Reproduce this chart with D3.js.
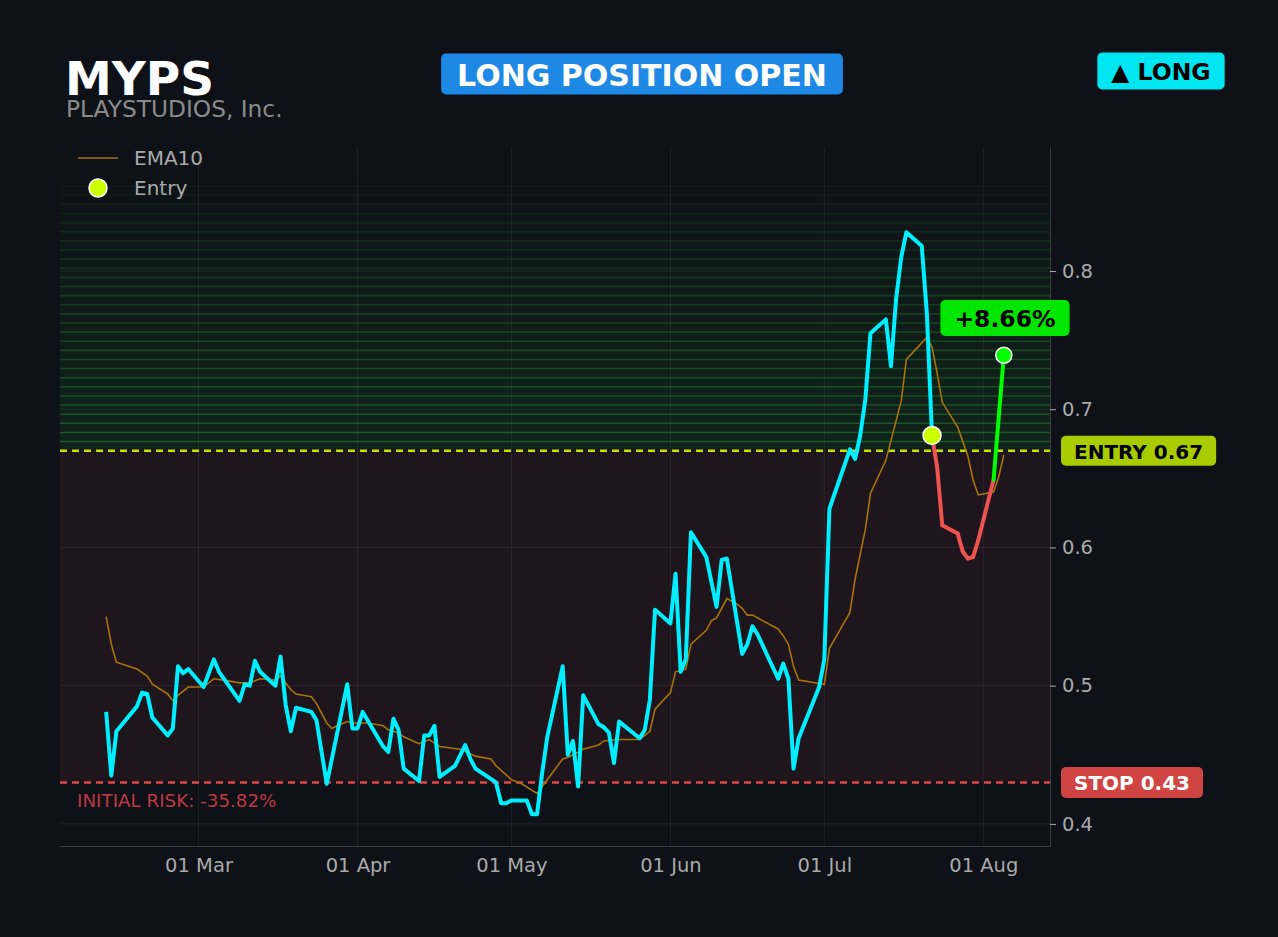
<!DOCTYPE html>
<html>
<head>
<meta charset="utf-8">
<script src="https://cdn.jsdelivr.net/npm/d3@7"></script>
<style>
  body { margin: 0; background: #0e1117; }
  text { font-family: "DejaVu Sans", sans-serif; }
</style>
</head>
<body>
<script>
var w = 1278;
var h = 937;

// ---- data ----
var priceDates = ["2025-02-11","2025-02-12","2025-02-13","2025-02-17","2025-02-18","2025-02-19","2025-02-20","2025-02-23","2025-02-24","2025-02-25","2025-02-26","2025-02-27",
  "2025-03-02","2025-03-04","2025-03-05","2025-03-09","2025-03-10","2025-03-11","2025-03-12","2025-03-13","2025-03-16","2025-03-17","2025-03-18","2025-03-19","2025-03-20","2025-03-23","2025-03-24","2025-03-26","2025-03-30","2025-03-31",
  "2025-04-01","2025-04-02","2025-04-06","2025-04-07","2025-04-08","2025-04-09","2025-04-10","2025-04-13","2025-04-14","2025-04-15","2025-04-16","2025-04-17","2025-04-20","2025-04-22","2025-04-23","2025-04-24","2025-04-28","2025-04-29","2025-04-30",
  "2025-05-01","2025-05-04","2025-05-05","2025-05-06","2025-05-07","2025-05-08","2025-05-11","2025-05-12","2025-05-13","2025-05-14","2025-05-15","2025-05-18","2025-05-19","2025-05-20","2025-05-21","2025-05-22","2025-05-26","2025-05-27","2025-05-28","2025-05-29",
  "2025-06-01","2025-06-02","2025-06-03","2025-06-04","2025-06-05","2025-06-08","2025-06-10","2025-06-11","2025-06-12","2025-06-15","2025-06-16","2025-06-17","2025-06-18","2025-06-22","2025-06-23","2025-06-24","2025-06-25","2025-06-26","2025-06-30",
  "2025-07-01","2025-07-02","2025-07-06","2025-07-07","2025-07-08","2025-07-09","2025-07-10","2025-07-13","2025-07-14","2025-07-15","2025-07-16","2025-07-17","2025-07-20","2025-07-21","2025-07-22",
  "2025-07-23","2025-07-24","2025-07-27","2025-07-28","2025-07-29","2025-07-30","2025-07-31","2025-08-03","2025-08-05"];
var priceValues = [0.481,0.435,0.467,0.485,0.495,0.494,0.477,0.464,0.469,0.514,0.509,0.512,
  0.499,0.519,0.510,0.489,0.501,0.500,0.518,0.510,0.500,0.521,0.486,0.467,0.484,0.481,0.475,0.429,0.501,0.469,
  0.469,0.481,0.456,0.452,0.476,0.468,0.440,0.431,0.464,0.464,0.471,0.434,0.442,0.457,0.447,0.440,0.430,0.415,0.415,
  0.417,0.417,0.407,0.407,0.437,0.463,0.514,0.450,0.460,0.427,0.493,0.472,0.470,0.466,0.444,0.474,0.462,0.468,0.490,0.555,
  0.545,0.581,0.510,0.519,0.611,0.593,0.557,0.591,0.592,0.523,0.530,0.543,0.537,0.505,0.516,0.505,0.440,0.462,0.499,
  0.519,0.628,0.671,0.664,0.681,0.707,0.755,0.765,0.731,0.780,0.810,0.828,0.818,0.769,0.681,
  0.658,0.616,0.610,0.597,0.592,0.593,0.605,0.649,0.739];

var emaDates = ["2025-02-11","2025-02-12","2025-02-13","2025-02-17","2025-02-19","2025-02-20","2025-02-23","2025-02-24","2025-02-25","2025-02-27",
  "2025-03-02","2025-03-04","2025-03-06","2025-03-09","2025-03-11","2025-03-13","2025-03-16","2025-03-17","2025-03-19","2025-03-20","2025-03-23","2025-03-24","2025-03-26","2025-03-27","2025-03-28","2025-03-30","2025-03-31",
  "2025-04-03","2025-04-06","2025-04-07","2025-04-09","2025-04-10","2025-04-13","2025-04-15","2025-04-17","2025-04-21","2025-04-24","2025-04-27","2025-04-28",
  "2025-05-01","2025-05-03","2025-05-06","2025-05-07","2025-05-09","2025-05-11","2025-05-12","2025-05-13","2025-05-15","2025-05-18","2025-05-19","2025-05-22","2025-05-26","2025-05-27","2025-05-28","2025-05-29",
  "2025-06-01","2025-06-02","2025-06-04","2025-06-05","2025-06-08","2025-06-09","2025-06-10","2025-06-12","2025-06-14","2025-06-15","2025-06-16","2025-06-17","2025-06-22","2025-06-23","2025-06-24","2025-06-25","2025-06-26",
  "2025-07-01","2025-07-02","2025-07-04","2025-07-06","2025-07-07","2025-07-09","2025-07-10","2025-07-13","2025-07-16","2025-07-17","2025-07-21","2025-07-22","2025-07-23","2025-07-24","2025-07-27","2025-07-29","2025-07-30","2025-07-31",
  "2025-08-03","2025-08-04","2025-08-05"];
var emaValues = [0.550,0.530,0.517,0.512,0.507,0.501,0.494,0.489,0.493,0.499,
  0.499,0.505,0.504,0.502,0.502,0.505,0.504,0.507,0.497,0.494,0.492,0.487,0.473,0.469,0.471,0.474,0.473,
  0.473,0.471,0.468,0.466,0.463,0.458,0.461,0.456,0.454,0.449,0.447,0.442,
  0.432,0.429,0.422,0.427,0.437,0.447,0.448,0.450,0.454,0.457,0.460,0.461,0.461,0.464,0.467,0.483,
  0.495,0.510,0.512,0.530,0.540,0.547,0.549,0.563,0.559,0.556,0.551,0.551,0.541,0.536,0.530,0.514,0.504,
  0.501,0.527,0.540,0.553,0.577,0.613,0.639,0.663,0.706,0.736,0.752,0.745,0.726,0.705,0.687,0.666,0.649,0.638,
  0.640,0.651,0.667];

var entryDate = "2025-07-22";
var entryPrice = 0.67;
var stopPrice = 0.43;
var yTicks = [0.4, 0.5, 0.6, 0.7, 0.8];

var ticker = "MYPS";
var company = "PLAYSTUDIOS, Inc.";

var parse = d3.timeParse("%Y-%m-%d");
var price = priceDates.map(function (d, i) { return { date: parse(d), v: priceValues[i] }; });
var ema = emaDates.map(function (d, i) { return { date: parse(d), v: emaValues[i] }; });
var entryIdx = priceDates.indexOf(entryDate);
var last = price[price.length - 1];
var pnl = (last.v / price[entryIdx].v - 1) * 100;
var risk = (stopPrice / entryPrice - 1) * 100;

// ---- layout ----
var plotL = 60, plotR = 1050, plotT = 147, plotB = 846;

var x = d3.scaleTime()
    .domain([parse("2025-02-02"), parse("2025-08-14")])
    .range([plotL, plotR]);
var y = d3.scaleLinear()
    .domain([0.384, 0.8897])
    .range([plotB, plotT]);

var svg = d3.select("body").append("svg")
    .attr("width", w)
    .attr("height", h);

svg.append("rect")
    .attr("width", w).attr("height", h)
    .attr("fill", "#0e1117");

//---zones-----
svg.append("rect")
    .attr("x", plotL).attr("y", y(entryPrice))
    .attr("width", plotR - plotL).attr("height", y(stopPrice) - y(entryPrice))
    .attr("fill", "#1f161d");

// layered green glow above the entry
var bands = 30, bandStep = 0.0066;
for (var i = 0; i < bands; i++) {
    var a = 1 - i / bands;
    var b0 = entryPrice + i * bandStep;
    svg.append("rect")
        .attr("x", plotL).attr("y", y(b0 + bandStep))
        .attr("width", plotR - plotL).attr("height", y(b0) - y(b0 + bandStep))
        .attr("fill", "rgb(24,110,40)")
        .attr("fill-opacity", 0.2 * Math.pow(a, 0.8));
    svg.append("line")
        .attr("x1", plotL).attr("x2", plotR)
        .attr("y1", y(b0 + bandStep)).attr("y2", y(b0 + bandStep))
        .attr("stroke", "rgb(40,140,48)")
        .attr("stroke-opacity", 0.55 * Math.pow(a, 0.8))
        .attr("stroke-width", 1.6);
}

//---grid-----
svg.append("g").selectAll("line")
    .data(x.ticks(d3.timeMonth.every(1)))
    .join("line")
    .attr("x1", function (d) { return x(d); }).attr("x2", function (d) { return x(d); })
    .attr("y1", plotT).attr("y2", plotB)
    .attr("stroke", "#ffffff").attr("stroke-opacity", 0.07);
svg.append("g").selectAll("line")
    .data(yTicks)
    .join("line")
    .attr("x1", plotL).attr("x2", plotR)
    .attr("y1", function (d) { return y(d); }).attr("y2", function (d) { return y(d); })
    .attr("stroke", "#ffffff").attr("stroke-opacity", 0.07);

//---axes-----
var xAxis = svg.append("g")
    .attr("transform", "translate(0," + plotB + ")")
    .call(d3.axisBottom(x).ticks(d3.timeMonth.every(1)).tickFormat(d3.timeFormat("%d %b"))
        .tickSize(0).tickSizeOuter(0).tickPadding(12));
var yAxis = svg.append("g")
    .attr("transform", "translate(" + plotR + ",0)")
    .call(d3.axisRight(y).tickValues(yTicks).tickFormat(d3.format(".1f"))
        .tickSizeInner(6).tickSizeOuter(0).tickPadding(6));
[xAxis, yAxis].forEach(function (g) {
    g.select(".domain").attr("stroke", "#3a3d44");
    g.selectAll(".tick line").attr("stroke", "#aaaaaa");
    g.selectAll(".tick text").attr("fill", "#aaaaaa").attr("font-size", 19.5)
        .attr("font-family", "DejaVu Sans");
});

//---levels-----
svg.append("line")
    .attr("x1", plotL).attr("x2", plotR)
    .attr("y1", y(entryPrice)).attr("y2", y(entryPrice))
    .attr("stroke", "#c8e000").attr("stroke-width", 2.5)
    .attr("stroke-dasharray", "7,5");
svg.append("line")
    .attr("x1", plotL).attr("x2", plotR)
    .attr("y1", y(stopPrice)).attr("y2", y(stopPrice))
    .attr("stroke", "#e04848").attr("stroke-width", 2.5)
    .attr("stroke-dasharray", "7,5");

//---lines-----
var line = d3.line()
    .x(function (d) { return x(d.date); })
    .y(function (d) { return y(d.v); });

svg.append("path")
    .datum(ema)
    .attr("d", line)
    .attr("fill", "none")
    .attr("stroke", "#a8720c")
    .attr("stroke-width", 1.6);

svg.append("path")
    .datum(price.slice(0, entryIdx + 1))
    .attr("d", line)
    .attr("fill", "none")
    .attr("stroke", "#00eeff")
    .attr("stroke-width", 4)
    .attr("stroke-linejoin", "round");

var after = price.slice(entryIdx);
svg.append("g").selectAll("path")
    .data(d3.pairs(after))
    .join("path")
    .attr("d", function (p) { return line(p); })
    .attr("fill", "none")
    .attr("stroke", function (p) { return p[1].v >= entryPrice ? "#00ff00" : "#ef5350"; })
    .attr("stroke-width", 4)
    .attr("stroke-linecap", "round");

svg.append("circle")
    .attr("cx", x(price[entryIdx].date)).attr("cy", y(price[entryIdx].v))
    .attr("r", 9)
    .attr("fill", "#ccff00").attr("stroke", "#ffffff").attr("stroke-width", 1.5);
svg.append("circle")
    .attr("cx", x(last.date)).attr("cy", y(last.v))
    .attr("r", 8)
    .attr("fill", "#00ff00").attr("stroke", "#ffffff").attr("stroke-width", 1.5);

//---labels-----
function badge(cx, cy, label, bg, fg, size, padX, hgt, anchor) {
    var t = svg.append("text")
        .text(label)
        .attr("font-size", size)
        .attr("font-weight", "bold")
        .attr("fill", fg)
        .attr("dominant-baseline", "central");
    var tw = t.node().getComputedTextLength();
    var bx = anchor === "start" ? cx : cx - tw / 2 - padX;
    svg.insert("rect", function () { return t.node(); })
        .attr("x", bx).attr("y", cy - hgt / 2)
        .attr("width", tw + 2 * padX).attr("height", hgt)
        .attr("rx", 5)
        .attr("fill", bg);
    t.attr("x", bx + padX).attr("y", cy + 1);
}

badge(1005, 318, (pnl >= 0 ? "+" : "") + "8.66%", "#00e600", "#000000", 23.5, 14, 36, "middle");
badge(1061, y(entryPrice), "ENTRY " + entryPrice.toFixed(2), "#a8cc00", "#000000", 20, 13, 30, "start");
badge(1061, y(stopPrice), "STOP " + stopPrice.toFixed(2), "#d04444", "#ffffff", 20, 13, 31, "start");
badge(642, 74, "LONG POSITION OPEN", "#1e88e5", "#ffffff", 30, 16, 41, "middle");
badge(1161, 71, "\u25B2 LONG", "#00e5f0", "#000000", 23.5, 14, 37, "middle");

svg.append("text")
    .text("INITIAL RISK: " + risk.toFixed(2) + "%")
    .attr("x", 77).attr("y", 807)
    .attr("font-size", 18.3)
    .attr("fill", "#c0393f");

svg.append("text")
    .text(ticker)
    .attr("x", 65).attr("y", 95)
    .attr("font-size", 47).attr("font-weight", "bold")
    .attr("fill", "#ffffff");
svg.append("text")
    .text(company)
    .attr("x", 66).attr("y", 117)
    .attr("font-size", 23.3)
    .attr("fill", "#8a8a8a");

//---legend-----
svg.append("line")
    .attr("x1", 78).attr("x2", 118).attr("y1", 158).attr("y2", 158)
    .attr("stroke", "#a8720c").attr("stroke-width", 1.6);
svg.append("text").text("EMA10")
    .attr("x", 134).attr("y", 165)
    .attr("font-size", 20).attr("fill", "#aaaaaa");
svg.append("circle")
    .attr("cx", 98).attr("cy", 188).attr("r", 9)
    .attr("fill", "#ccff00").attr("stroke", "#ffffff").attr("stroke-width", 1.5);
svg.append("text").text("Entry")
    .attr("x", 134).attr("y", 195)
    .attr("font-size", 20).attr("fill", "#aaaaaa");
</script>
</body>
</html>
